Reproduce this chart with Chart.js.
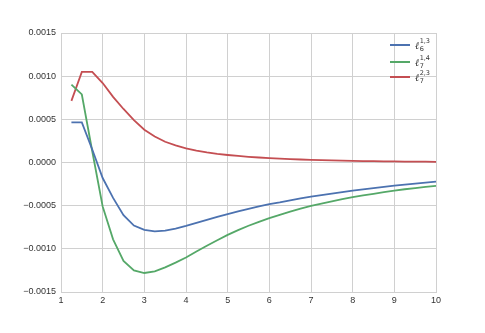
<!DOCTYPE html>
<html><head><meta charset="utf-8">
<script src="https://cdn.jsdelivr.net/npm/chart.js@4/dist/chart.umd.min.js"></script>
<style>html,body{margin:0;padding:0;background:#fff}#wrap{width:485px;height:333px}</style>
</head><body><div id="wrap"><canvas id="c" width="485" height="333"></canvas></div>
<script>
const xValues = [1.25,1.5,1.75,2,2.25,2.5,2.75,3,3.25,3.5,3.75,4,4.25,4.5,4.75,5,5.25,5.5,5.75,6,6.25,6.5,6.75,7,7.25,7.5,7.75,8,8.25,8.5,8.75,9,9.25,9.5,9.75,10];
const l6_13 = [0.000464,0.000464,0.00015,-0.00018,-0.00041,-0.00061,-0.00073,-0.00078,-0.000797,-0.00079,-0.000765,-0.000735,-0.0007,-0.000665,-0.00063,-0.000598,-0.000567,-0.000537,-0.000509,-0.000483,-0.000462,-0.000438,-0.000416,-0.000395,-0.000377,-0.00036,-0.000342,-0.000326,-0.000311,-0.000296,-0.000282,-0.000268,-0.000256,-0.000244,-0.000233,-0.000222];
const l7_14 = [0.000903,0.000788,0.00013,-0.00051,-0.00089,-0.00114,-0.00125,-0.00128,-0.00126,-0.001215,-0.00116,-0.0011,-0.00103,-0.000965,-0.0009,-0.000838,-0.000783,-0.000733,-0.000687,-0.000645,-0.000606,-0.00057,-0.000535,-0.000502,-0.000475,-0.00045,-0.000425,-0.000402,-0.000382,-0.000363,-0.000344,-0.000326,-0.00031,-0.000296,-0.000283,-0.000271];
const l7_23 = [0.000714,0.00105,0.00105,0.00092,0.00076,0.00062,0.00049,0.00038,0.000302,0.00024,0.000198,0.000164,0.000138,0.000117,0.0001,0.000087,0.000076,0.000066,0.000058,0.000051,0.000045,0.00004,0.000035,0.000031,0.000027,0.000024,0.000021,0.000019,0.000017,0.000015,0.000013,0.000012,0.000011,0.00001,0.000009,0.000008];
const seriesNames = [["6","1,3"],["7","1,4"],["7","2,3"]];
const colors = ["#4C72B0","#55A868","#C44E52"];

function pts(arr){ return xValues.map((x,i)=>({x:x,y:arr[i]})); }

const legendPlugin = {
  id:'mathLegend',
  afterDatasetsDraw(chart){
    const ctx = chart.ctx;
    const ys = [45,62,77];
    chart.data.datasets.forEach((ds,i)=>{
      const y = ys[i];
      ctx.save();
      ctx.strokeStyle = ds.borderColor; ctx.lineWidth = 2;
      ctx.beginPath(); ctx.moveTo(390,y); ctx.lineTo(410,y); ctx.stroke();
      ctx.fillStyle = '#333';
      ctx.textBaseline = 'alphabetic';
      ctx.font = 'italic 10px "DejaVu Serif", serif';
      ctx.fillText('\u2113', 415, y+4);
      const w = ctx.measureText('\u2113').width;
      ctx.font = '6.5px "DejaVu Sans", sans-serif';
      ctx.fillText(ds.sub, 415+w+0.5, y+6);
      ctx.fillText(ds.sup, 415+w+0.5, y-2);
      ctx.restore();
    });
  }
};

const fontTick = {family:'"Liberation Sans", Arial, sans-serif', size:9};
new Chart(document.getElementById('c'), {
  type:'line',
  data:{datasets:[
    {label:'l6_13', sub:seriesNames[0][0], sup:seriesNames[0][1], data:pts(l6_13), borderColor:colors[0], borderWidth:1.8},
    {label:'l7_14', sub:seriesNames[1][0], sup:seriesNames[1][1], data:pts(l7_14), borderColor:colors[1], borderWidth:1.8},
    {label:'l7_23', sub:seriesNames[2][0], sup:seriesNames[2][1], data:pts(l7_23), borderColor:colors[2], borderWidth:1.8}
  ]},
  options:{
    responsive:false, animation:false,
    elements:{point:{radius:0}, line:{tension:0, fill:false}},
    layout:{padding:{left:0, top:33, right:49, bottom:0}},
    plugins:{legend:{display:false}, tooltip:{enabled:false}},
    scales:{
      x:{type:'linear', min:1, max:10,
        ticks:{stepSize:1, color:'#333', font:fontTick, padding:3, maxRotation:0},
        grid:{color:'#d0d0d0', lineWidth:1, drawTicks:false},
        border:{color:'#d0d0d0'},
        afterFit(s){ s.height = 41; }
      },
      y:{type:'linear', min:-0.0015, max:0.0015,
        ticks:{stepSize:0.0005, color:'#333', font:fontTick, padding:5,
          callback:(v)=>{ let t = Math.abs(v)<1e-12 ? '0.0000' : v.toFixed(4); return t.replace('-', '\u2212'); }},
        grid:{color:'#d0d0d0', lineWidth:1, drawTicks:false},
        border:{color:'#d0d0d0'},
        afterFit(s){ s.width = 61; }
      }
    }
  },
  plugins:[legendPlugin]
});
</script>
</body></html>
